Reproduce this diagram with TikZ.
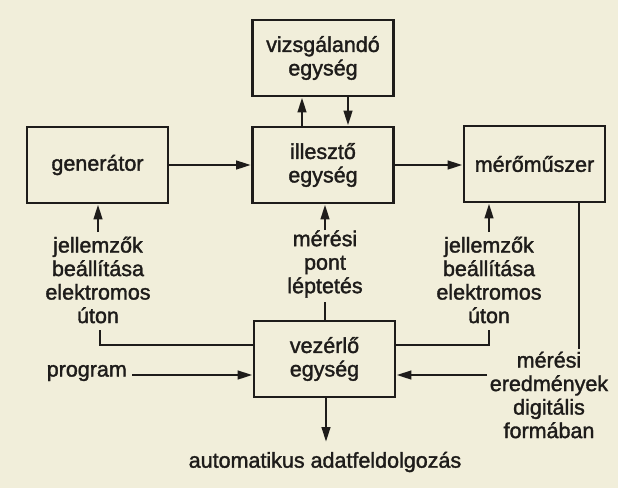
\documentclass[tikz,border=0pt]{standalone}
\usepackage{fontspec}
\setmainfont{Liberation Sans}[FakeBold=1.6]
\usetikzlibrary{arrows.meta}
\definecolor{paper}{RGB}{241,238,218}
\definecolor{ink}{RGB}{30,28,26}
\begin{document}
\begin{tikzpicture}[x=1pt,y=-1pt,
  every node/.style={text=ink},
  txt/.style={align=center,inner sep=0pt,font=\fontsize{21.5}{23.5}\selectfont},
  blk/.style={draw=ink,line width=2.9pt,minimum width=141pt,minimum height=76pt,inner sep=0pt,align=center,font=\fontsize{21.5}{23.5}\selectfont},
  conn/.style={draw=ink,line width=2.8pt},
  arr/.style={conn,-{Triangle[length=15pt,width=8.5pt]}}]
\fill[paper] (0,0) rectangle (618,488);
\useasboundingbox (0,0) rectangle (618,488);
% boxes
\node[blk] (viz) at (323,58) {vizsgálandó\\egység};
\node[blk] (ill) at (323,165) {illesztő\\egység};
\node[blk] (gen) at (97.5,165) {generátor};
\node[blk] (mer) at (534.5,164) {mérőműszer};
\node[blk] (vez) at (324.5,359) {vezérlő\\egység};
% labels
\node[txt] (jell1) at (98,280) {jellemzők\\beállítása\\elektromos\\úton};
\node[txt] (pont) at (325,264) {mérési\\pont\\léptetés};
\node[txt] (jell2) at (489,280) {jellemzők\\beállítása\\elektromos\\úton};
\node[txt] (ered) at (549,395) {mérési\\eredmények\\digitális\\formában};
\node[txt,anchor=east] (prog) at (127,373) {program};
\node[txt] (auto) at (325,462) {automatikus adatfeldolgozás};
% coordinates for free ends
\coordinate (j1top) at (98,232);
\coordinate (j1bot) at (100,330);
\coordinate (ptop) at (325,230);
\coordinate (pbot) at (325,302);
\coordinate (j2top) at (489,232);
\coordinate (j2bot) at (489,330);
\coordinate (rl) at (579,349);
\coordinate (etail) at (487,375);
\coordinate (ptail) at (132,375);
\coordinate (aend) at (326,442);
% connectors
\draw[arr] (gen.east) -- (ill.west);
\draw[arr] (ill.east) -- (mer.west |- ill.east);
\draw[arr] (ill.north -| 302,0) -- (viz.south -| 302,0);
\draw[arr] (viz.south -| 348,0) -- (ill.north -| 348,0);
\draw[arr] (j1top) -- (j1top |- gen.south);
\draw[conn] (j1bot) |- ([yshift=14pt]vez.west);
\draw[arr] (ptop) -- (ptop |- ill.south);
\draw[conn] (pbot) -- (pbot |- vez.north);
\draw[arr] (j2top) -- (j2top |- mer.south);
\draw[conn] (j2bot) |- ([yshift=14pt]vez.east);
\draw[conn] (rl |- mer.south) -- (rl);
\draw[arr] (etail) -- (etail -| vez.east);
\draw[arr] (ptail) -- (ptail -| vez.west);
\draw[arr] (aend |- vez.south) -- (aend);
\end{tikzpicture}
\end{document}
